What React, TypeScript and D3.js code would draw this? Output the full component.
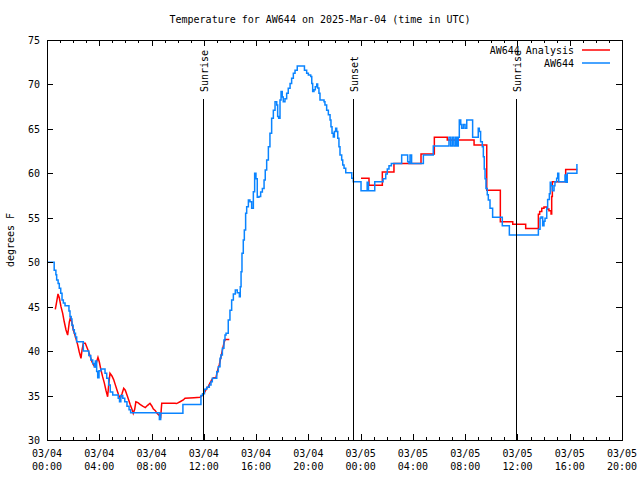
import React from "react";
import * as d3 from "d3";

// hours after 2025-03-04 00:00 UTC, temperature (°F)
const observed: [number, number][] = [
  [0, 50.0], [0.55, 49.1], [0.68, 48.6], [0.74, 48.0], [0.85, 47.6], [0.94, 47.06], [1.05, 46.5],
  [1.15, 45.75], [1.25, 45.4], [1.38, 45.1], [1.68, 44.5], [1.76, 43.9], [1.85, 43.6], [1.91, 42.9],
  [2.0, 42.4], [2.09, 42.0], [2.18, 41.6], [2.27, 41.06], [2.78, 40.0], [3.2, 39.5], [3.35, 39.0],
  [3.5, 38.6], [3.62, 38.2], [3.7, 38.9], [3.8, 37.7], [3.88, 37.0], [3.98, 37.8], [4.13, 38.0],
  [4.44, 37.5], [4.57, 36.94], [4.72, 36.19], [4.84, 35.4], [5.03, 35.06], [5.45, 34.7], [5.55, 34.3],
  [5.65, 35.0], [5.8, 34.7], [5.95, 34.3], [6.12, 33.8], [6.28, 33.4], [6.4, 33.07], [8.6, 32.3],
  [8.7, 33.0], [10.4, 34.0], [11.78, 35.0], [11.9, 35.2], [12.05, 35.7], [12.22, 35.93], [12.42, 36.19],
  [12.55, 36.56], [12.65, 36.94], [12.99, 37.69], [13.11, 38.25], [13.24, 39.19], [13.31, 39.56],
  [13.42, 40.31], [13.54, 41.25], [13.62, 41.81], [13.7, 42.0], [13.87, 43.5], [14.0, 44.6],
  [14.13, 45.75], [14.26, 46.43], [14.41, 46.88], [14.56, 46.57], [14.72, 46.12], [14.79, 47.25],
  [14.85, 48.94], [14.92, 51.0], [15.02, 52.5], [15.1, 53.63], [15.2, 55.5], [15.28, 56.25],
  [15.41, 57.0], [15.53, 56.8], [15.66, 56.06], [15.79, 57.94], [15.89, 60.0], [15.99, 59.4],
  [16.09, 57.3], [16.22, 57.4], [16.35, 57.9], [16.48, 58.3], [16.61, 59.25], [16.7, 60.37],
  [16.81, 61.5], [16.94, 63.0], [17.06, 64.5], [17.19, 66.2], [17.32, 67.1], [17.45, 68.06],
  [17.58, 67.7], [17.65, 66.4], [17.73, 66.2], [17.83, 68.25], [17.91, 69.2], [18.0, 68.6],
  [18.08, 68.06], [18.21, 68.4], [18.34, 69.0], [18.46, 69.56], [18.6, 70.1], [18.72, 70.7],
  [18.85, 71.25], [18.98, 71.6], [19.15, 72.07], [19.7, 71.6], [19.87, 71.25], [20.0, 71.06],
  [20.18, 70.9], [20.26, 70.1], [20.33, 69.2], [20.43, 69.4], [20.53, 69.75], [20.64, 70.05],
  [20.71, 69.6], [20.81, 69.0], [20.89, 68.25], [21.2, 68.06], [21.27, 67.7], [21.4, 67.1],
  [21.53, 66.6], [21.66, 66.0], [21.73, 65.25], [21.81, 64.5], [21.91, 64.1], [21.99, 64.7],
  [22.09, 65.06], [22.17, 64.7], [22.25, 63.94], [22.34, 63.0], [22.42, 62.06], [22.55, 61.5],
  [22.63, 60.94], [22.73, 60.56], [22.86, 60.07], [23.32, 59.44], [23.44, 59.06], [24.03, 58.05],
  [24.5, 59.0], [24.6, 58.05], [25.08, 59.06], [25.72, 59.4], [25.92, 59.93], [26.04, 60.5],
  [26.17, 60.86], [26.35, 61.1], [27.14, 62.06], [27.6, 61.3], [27.7, 61.1], [27.78, 62.06],
  [27.9, 61.1], [28.8, 62.06], [29.56, 63.07], [30.76, 64.05], [30.89, 63.07], [31.02, 64.05],
  [31.14, 63.07], [31.27, 64.05], [31.37, 63.07], [31.47, 64.05], [31.55, 66.0], [31.66, 65.5],
  [31.73, 65.06], [31.86, 65.5], [31.99, 65.06], [32.12, 66.0], [32.57, 64.05], [33.0, 65.06],
  [33.08, 64.7], [33.18, 63.56], [33.31, 63.0], [33.39, 61.87], [33.46, 60.5], [33.52, 59.4],
  [33.59, 58.3], [33.69, 57.6], [33.77, 57.0], [33.9, 56.06], [34.1, 55.06], [34.84, 54.1],
  [35.38, 53.06], [37.6, 53.7], [37.73, 54.94], [37.8, 55.1], [37.93, 54.1], [38.03, 54.6],
  [38.11, 54.94], [38.24, 56.06], [38.31, 57.07], [38.44, 57.7], [38.51, 59.0], [38.57, 58.6],
  [38.67, 58.05], [38.8, 58.6], [38.87, 59.06], [39.0, 59.44], [39.08, 60.0], [39.16, 59.06],
  [39.64, 59.8], [39.72, 59.0], [39.81, 60.0], [40.55, 61.05],
];

const analysisDay1: [number, number][] = [
  [0.635, 44.7], [0.742, 45.56], [0.842, 46.43], [0.94, 46.0], [1.07, 45.0], [1.2, 44.25],
  [1.32, 43.3], [1.45, 42.4], [1.58, 41.8], [1.71, 43.3], [1.78, 43.7], [1.89, 43.3], [2.01, 42.4],
  [2.14, 41.8], [2.35, 40.7], [2.47, 39.9], [2.6, 39.19], [2.68, 40.1], [2.78, 40.88], [2.93, 40.88],
  [3.06, 40.4], [3.19, 39.9], [3.31, 39.4], [3.44, 38.8], [3.57, 38.4], [3.67, 38.25], [3.8, 38.8],
  [3.9, 39.3], [4.0, 38.8], [4.13, 37.87], [4.26, 37.1], [4.39, 36.4], [4.51, 35.6], [4.64, 34.87],
  [4.72, 36.2], [4.82, 37.5], [4.97, 37.2], [5.1, 36.8], [5.23, 36.2], [5.36, 35.6], [5.48, 35.06],
  [5.61, 34.7], [5.74, 35.2], [5.87, 35.82], [5.99, 35.6], [6.12, 35.06], [6.25, 34.5], [6.37, 33.96],
  [6.5, 33.45], [6.6, 33.0], [6.71, 33.45], [6.8, 34.3], [6.96, 34.2], [7.12, 34.0], [7.32, 33.8],
  [7.52, 33.64], [7.7, 33.9], [7.88, 34.13], [8.03, 33.8], [8.13, 33.5], [8.29, 33.3], [8.42, 33.0],
  [8.55, 32.81], [8.7, 32.6], [8.78, 34.13], [9.79, 34.13], [9.92, 34.1], [10.18, 34.3],
  [10.43, 34.5], [10.56, 34.69], [11.25, 34.75], [11.71, 34.8], [11.91, 35.06], [12.09, 35.44],
  [12.22, 35.8], [12.34, 36.0], [12.47, 36.4], [12.6, 36.75], [12.73, 37.0], [12.93, 37.0],
  [13.03, 37.7], [13.18, 38.44], [13.29, 39.2], [13.42, 40.1], [13.54, 40.88], [13.62, 41.3],
  [13.95, 41.3],
];

const analysisDay2: [number, number][] = [
  [24.03, 59.44], [24.64, 58.65], [25.66, 60.15], [26.55, 61.1], [28.62, 62.17], [29.64, 64.05],
  [30.63, 63.75], [32.68, 63.19], [33.65, 58.1], [34.69, 54.56], [35.64, 54.26], [36.63, 53.8],
  [37.6, 55.4], [37.7, 55.7], [37.86, 56.06], [38.03, 56.2], [38.24, 56.0], [38.41, 55.8],
  [38.57, 55.43], [38.62, 57.4], [38.67, 59.06], [39.69, 60.44], [40.58, 60.44],
];

const sunLabels = ["Sunrise", "Sunset", "Sunrise"];
const sunHours = [11.96, 23.38, 35.91];

const yTicks = [30, 35, 40, 45, 50, 55, 60, 65, 70, 75];
const seriesNames = ["AW644 Analysis", "AW644"];
const seriesColors = ["#ff0000", "#0a84ff"];
const titleText = "Temperature for AW644 on 2025-Mar-04 (time in UTC)";
const yLabel = "degrees F";

const T0 = Date.UTC(2025, 2, 4, 0, 0);
const HOUR = 3600 * 1000;
const toDate = (h: number) => new Date(T0 + h * HOUR);

const FONT = "'DejaVu Sans Mono', monospace";

export default function App() {
  const left = 47, right = 622, top = 40, bottom = 440;
  const x = d3.scaleUtc().domain([toDate(0), toDate(44)]).range([left, right]);
  const y = d3.scaleLinear().domain([30, 75]).range([bottom, top]);

  const stepLine = d3.line<[number, number]>()
    .x((d) => x(toDate(d[0])))
    .y((d) => y(d[1]))
    .curve(d3.curveStepAfter);
  const linLine = d3.line<[number, number]>()
    .x((d) => x(toDate(d[0])))
    .y((d) => y(d[1]));

  const majorTicks = d3.utcHour.every(4)!.range(toDate(0), toDate(44.01));
  const minorTicks = d3.utcHour.every(1)!.range(toDate(0), toDate(44.01));
  const fmtDay = d3.utcFormat("%m/%d");
  const fmtTime = d3.utcFormat("%H:%M");

  return (
    <svg width={640} height={480} style={{ position: "absolute", left: 0, top: 0, background: "#fff" }}
      fontFamily={FONT} fontSize={10}>
      <rect x={0} y={0} width={640} height={480} fill="#fff" />
      <text x={320} y={23} textAnchor="middle">{titleText}</text>

      {/* data */}
      <g fill="none" strokeWidth={1.5}>
        <path d={linLine(analysisDay1) || ""} stroke={seriesColors[0]} />
        <path d={stepLine(analysisDay2) || ""} stroke={seriesColors[0]} />
        <path d={stepLine(observed) || ""} stroke={seriesColors[1]} />
      </g>

      {/* sun events */}
      {sunHours.map((h, i) => {
        const sx = Math.round(x(toDate(h))) + 0.5;
        return (
          <g key={i}>
            <line x1={sx} x2={sx} y1={bottom} y2={99} stroke="#000" strokeWidth={1} />
            <text transform={`translate(${sx + 4},92) rotate(-90)`} textAnchor="start">{sunLabels[i]}</text>
          </g>
        );
      })}

      {/* frame */}
      <rect x={left + 0.5} y={top + 0.5} width={right - left} height={bottom - top} fill="none" stroke="#000" strokeWidth={1} shapeRendering="crispEdges" />

      {/* ticks */}
      <g stroke="#000" shapeRendering="crispEdges">
        {minorTicks.map((t, i) => {
          const tx = Math.round(x(t)) + 0.5;
          return (
            <g key={i}>
              <line x1={tx} x2={tx} y1={bottom} y2={bottom - 3} />
              <line x1={tx} x2={tx} y1={top} y2={top + 3} />
            </g>
          );
        })}
        {majorTicks.map((t, i) => {
          const tx = Math.round(x(t)) + 0.5;
          return (
            <g key={i}>
              <line x1={tx} x2={tx} y1={bottom} y2={bottom - 6} />
              <line x1={tx} x2={tx} y1={top} y2={top + 6} />
            </g>
          );
        })}
        {yTicks.map((v, i) => {
          const ty = Math.round(y(v)) + 0.5;
          return (
            <g key={i}>
              <line x1={left} x2={left + 6} y1={ty} y2={ty} />
              <line x1={right} x2={right - 6} y1={ty} y2={ty} />
            </g>
          );
        })}
      </g>

      {majorTicks.map((t, i) => (
        <text key={i} x={x(t)} y={457} textAnchor="middle">
          <tspan x={x(t)} dy={0}>{fmtDay(t)}</tspan>
          <tspan x={x(t)} dy={13}>{fmtTime(t)}</tspan>
        </text>
      ))}

      {yTicks.map((v, i) => (
        <text key={i} x={40} y={y(v) + 4} textAnchor="end">{v}</text>
      ))}

      <text transform={`translate(14,${(top + bottom) / 2}) rotate(-90)`} textAnchor="middle">{yLabel}</text>

      {/* legend */}
      {seriesNames.map((name, i) => (
        <g key={i}>
          <text x={574} y={54 + i * 13} textAnchor="end">{name}</text>
          <line x1={582} x2={610} y1={50 + i * 13} y2={50 + i * 13} stroke={seriesColors[i]} strokeWidth={1.5} />
        </g>
      ))}
    </svg>
  );
}
